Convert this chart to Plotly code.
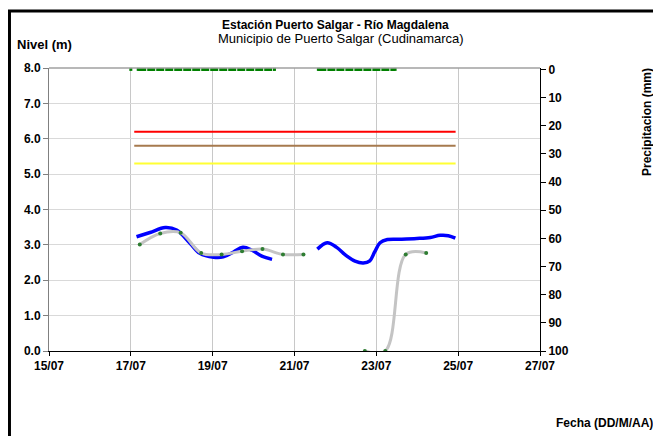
import plotly.graph_objects as go

# Nivel del río (m) - sensor
nivel_t = [
    "2011-07-17 03:20", "2011-07-17 11:15", "2011-07-17 20:10", "2011-07-18 02:50",
    "2011-07-18 10:50", "2011-07-18 16:30", "2011-07-19 00:30", "2011-07-19 06:15",
    "2011-07-19 12:15", "2011-07-19 17:45", "2011-07-19 23:00", "2011-07-20 04:50",
    "2011-07-20 10:50", None,
    "2011-07-21 13:25", "2011-07-21 19:10", "2011-07-22 00:45", "2011-07-22 06:45",
    "2011-07-22 11:30", "2011-07-22 16:20", "2011-07-22 20:10", "2011-07-22 23:00",
    "2011-07-23 02:10", "2011-07-23 06:30", "2011-07-23 13:55", "2011-07-23 23:45",
    "2011-07-24 07:40", "2011-07-24 13:25", "2011-07-24 18:15", "2011-07-24 22:20",
]
nivel_m = [
    3.23, 3.35, 3.49, 3.42, 3.04, 2.76, 2.65, 2.66, 2.80, 2.93, 2.85, 2.68, 2.59, None,
    2.88, 3.06, 2.93, 2.68, 2.54, 2.49, 2.55, 2.80, 3.06, 3.15, 3.16, 3.18, 3.21, 3.27,
    3.26, 3.19,
]

# Lecturas de mira (m)
lectura_t = [
    "2011-07-17 05:15", "2011-07-17 17:15", "2011-07-18 05:15", "2011-07-18 17:15",
    "2011-07-19 05:15", "2011-07-19 17:15", "2011-07-20 05:15", "2011-07-20 17:15",
    "2011-07-21 05:15", None,
    "2011-07-22 17:15", "2011-07-23 05:15", "2011-07-23 17:15", "2011-07-24 05:15",
]
lectura_m = [3.01, 3.32, 3.34, 2.77, 2.73, 2.82, 2.88, 2.73, 2.73, None, 0.0, 0.0, 2.73, 2.77]

# Umbrales (m)
umbral_t = ["2011-07-17 02:00", "2011-07-24 22:30"]
umbral_rojo = 6.2
umbral_cafe = 5.8
umbral_amarillo = 5.3

# Precipitación (mm)
precip_t = ["2011-07-17 00:00", None, "2011-07-17 04:20", "2011-07-20 12:15", None,
            "2011-07-21 14:00", "2011-07-21 15:00", "2011-07-23 11:00"]
precip_mm = [0, None, 0, 0, None, 0, 0, 0]

FONT = "Liberation Sans, Arial, sans-serif"

fig = go.Figure()

for val, col in [(umbral_rojo, "#ff0000"), (umbral_cafe, "#a67a4e"), (umbral_amarillo, "#ffff33")]:
    fig.add_trace(go.Scatter(
        x=umbral_t, y=[val, val], mode="lines",
        line=dict(color=col, width=2), showlegend=False, hoverinfo="skip",
    ))

fig.add_trace(go.Scatter(
    x=nivel_t, y=nivel_m, mode="lines",
    line=dict(color="#0000ff", width=3.5, shape="spline", smoothing=1.0),
    connectgaps=False, showlegend=False,
))

fig.add_trace(go.Scatter(
    x=lectura_t, y=lectura_m, mode="lines+markers",
    line=dict(color="#c4c4c4", width=3, shape="spline", smoothing=1.0),
    marker=dict(color="#2e7d32", size=4),
    connectgaps=False, showlegend=False,
))

fig.add_trace(go.Scatter(
    x=precip_t, y=precip_mm, mode="lines+markers", yaxis="y2",
    line=dict(color="#008000", width=3, dash="8px,1px"),
    marker=dict(color="#008000", size=3, symbol="square"),
    connectgaps=False, showlegend=False, cliponaxis=False,
))

tick_font = dict(family=FONT, size=12, color="#000000", weight="bold")

# page body has an 8px margin, so the figure is drawn 8px in from the corner
fig.update_layout(
    width=653, height=428, autosize=False,
    margin=dict(l=41, r=121, t=60, b=85),
    paper_bgcolor="white", plot_bgcolor="white",
    font=dict(family=FONT, color="#000000"),
    xaxis=dict(
        type="date", range=["2011-07-15", "2011-07-27"],
        dtick=2 * 86400000, tick0="2011-07-15", tickformat="%d/%m",
        showgrid=True, gridcolor="#c8c8c8", gridwidth=1,
        showline=True, linecolor="#000000", linewidth=1,
        ticks="outside", ticklen=4, tickcolor="#000000",
        tickfont=tick_font, zeroline=False,
    ),
    yaxis=dict(
        range=[0, 8], dtick=1, tickformat=".1f",
        showgrid=True, gridcolor="#d9d9d9", gridwidth=1,
        showline=True, linecolor="#808080", linewidth=1,
        ticks="outside", ticklen=5, tickcolor="#808080",
        tickfont=tick_font, zeroline=False,
    ),
    yaxis2=dict(
        overlaying="y", side="right", range=[100, -0.5],
        tickvals=[0, 10, 20, 30, 40, 50, 60, 70, 80, 90, 100],
        showgrid=False, zeroline=False,
        showline=True, linecolor="#000000", linewidth=1,
        ticks="outside", ticklen=5, tickcolor="#000000",
        tickfont=tick_font,
    ),
    shapes=[
        dict(type="line", xref="paper", yref="paper", x0=0, x1=1, y0=1, y1=1,
             line=dict(color="#a0a0a0", width=1.5)),
        dict(type="line", xref="paper", yref="paper", x0=-0.0805, x1=-0.0805,
             y0=-0.31, y1=1.2014, line=dict(color="#000000", width=3)),
        dict(type="line", xref="paper", yref="paper", x0=-0.0835, x1=1.26,
             y0=1.2014, y1=1.2014, line=dict(color="#000000", width=3)),
    ],
    annotations=[
        dict(text="<b>Estación Puerto Salgar - Río Magdalena</b>", xref="paper", yref="paper",
             x=0.5825, y=1.1519, showarrow=False, xanchor="center", yanchor="middle",
             font=dict(family=FONT, size=12)),
        dict(text="Municipio de Puerto Salgar (Cudinamarca)", xref="paper", yref="paper",
             x=0.5947, y=1.1025, showarrow=False, xanchor="center", yanchor="middle",
             font=dict(family=FONT, size=13)),
        dict(text="<b>Nivel (m)</b>", xref="paper", yref="paper",
             x=-0.0692, y=1.0813, showarrow=False, xanchor="left", yanchor="middle",
             font=dict(family=FONT, size=13)),
        dict(text="<b>Precipitacion (mm)</b>", xref="paper", yref="paper",
             x=1.2179, y=0.809, showarrow=False, xanchor="center", yanchor="middle",
             textangle=-90, font=dict(family=FONT, size=12)),
        dict(text="<b>Fecha (DD/M/AA)</b>", xref="paper", yref="paper",
             x=1.2342, y=-0.2544, showarrow=False, xanchor="right", yanchor="middle",
             font=dict(family=FONT, size=12)),
    ],
)

fig.write_html("out.html")
